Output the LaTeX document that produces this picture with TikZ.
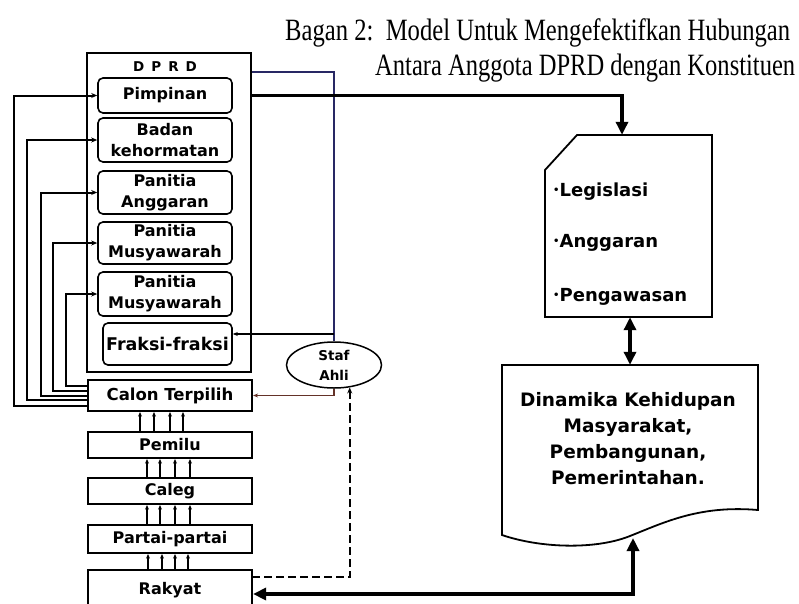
\documentclass[tikz,border=0pt]{standalone}
\usepackage{fontspec}
\usepackage{graphicx}
\setsansfont{DejaVu Sans}
\newfontfamily\titlefont{Liberation Serif}
\usetikzlibrary{arrows.meta,calc,shapes.geometric}
\definecolor{navyln}{RGB}{40,40,100}
\definecolor{brownln}{RGB}{100,50,40}
\begin{document}
\begin{tikzpicture}[x=1pt,y=-1pt,
  lbl/.style={font=\sffamily\bfseries\fontsize{16}{21}\selectfont, align=center},
  innerbox/.style={lbl, draw, rounded corners=5pt, line width=1.6pt, minimum width=134pt, inner sep=0pt},
  flowbox/.style={lbl, draw, line width=2.2pt, minimum width=164pt, inner sep=0pt},
  fb/.style={line width=2pt, -{Stealth[length=6pt,width=5pt]}},
  uparr/.style={line width=1.3pt, -{Stealth[length=4.5pt,width=4pt]}},
  bigtip/.tip={Triangle[length=13pt,width=12pt]},
  thickarr/.style={line width=3.8pt},
  thinln/.style={line width=1.3pt},
  rtxt/.style={font=\sffamily\bfseries\fontsize{18}{22}\selectfont, anchor=west, inner sep=0pt}
]
\useasboundingbox (0,0) rectangle (799,603);

% title
\node[anchor=base west, inner sep=0pt] (title1) at (285,40)
  {\resizebox{505pt}{\height}{\titlefont\fontsize{31}{33}\selectfont Bagan 2:\ \ Model Untuk Mengefektifkan Hubungan}};
\node[anchor=base west, inner sep=0pt] (title2) at (375,75)
  {\resizebox{420pt}{\height}{\titlefont\fontsize{31}{33}\selectfont Antara Anggota DPRD dengan Konstituen}};

% DPRD
\node[draw, line width=2.2pt, minimum width=164pt, minimum height=319pt, inner sep=0pt] (dprd) at (169,212.5) {};
\node[font=\sffamily\bfseries\fontsize{13.5}{15}\selectfont, inner sep=0pt] (dprdlbl) at (165,67) {D\hspace{7pt}P\hspace{7pt}R\hspace{7pt}D};
\node[innerbox, minimum height=35pt] (pim) at (165,95.5) {Pimpinan};
\node[innerbox, minimum height=44pt] (bad) at (165,140) {Badan\\kehormatan};
\node[innerbox, minimum height=43pt] (ang) at (165,192.5) {Panitia\\Anggaran};
\node[innerbox, minimum height=42pt] (mus1) at (165,243) {Panitia\\Musyawarah};
\node[innerbox, minimum height=44pt] (mus2) at (165,294) {Panitia\\Musyawarah};
\node[innerbox, minimum height=42pt, minimum width=129pt, font=\sffamily\bfseries\fontsize{17.5}{21}\selectfont] (fra) at (167.5,344) {Fraksi-fraksi};

% flow boxes
\node[flowbox, minimum height=31pt, font=\sffamily\bfseries\fontsize{16.5}{20}\selectfont] (calon) at (170,395.5) {Calon Terpilih};
\node[flowbox, minimum height=26pt] (pemilu) at (170,445) {Pemilu};
\node[flowbox, minimum height=26pt] (caleg) at (170,491) {Caleg};
\node[flowbox, minimum height=28pt] (partai) at (170,539) {Partai-partai};
\node[flowbox, minimum height=40pt] (rakyat) at (170,590) {Rakyat};

% staf ahli
\node[draw, ellipse, line width=1.5pt, minimum width=95pt, minimum height=46pt, inner sep=0pt,
  font=\sffamily\bfseries\fontsize{13.5}{20}\selectfont, align=center] (staf) at (334,365) {Staf\\Ahli};

% legislasi card
\draw[line width=1.8pt] (577,135) -- (712,135) -- (712,317) -- (545,317) -- (545,170) -- cycle;
\node[minimum width=167pt, minimum height=182pt, inner sep=0pt] (leg) at (628.5,226) {};
\node[rtxt] (l1) at (553,192) {\raisebox{3pt}{\fontsize{10}{10}\selectfont •}Legislasi};
\node[rtxt] (l2) at (553,243) {\raisebox{3pt}{\fontsize{10}{10}\selectfont •}Anggaran};
\node[rtxt] (l3) at (553,297) {\raisebox{3pt}{\fontsize{10}{10}\selectfont •}Pengawasan};

% dinamika document
\draw[line width=1.8pt] (502,365) -- (758,365) -- (758,510)
  .. controls (700,505) and (665,522) .. (630,536)
  .. controls (595,550) and (540,548) .. (502,535) -- cycle;
\node[minimum width=256pt, minimum height=170pt, inner sep=0pt] (din) at (630,450) {};
\coordinate (dinb) at (633,538);
\node[font=\sffamily\bfseries\fontsize{18.5}{26}\selectfont, align=center, inner sep=0pt] (dintxt) at (628,439)
  {Dinamika Kehidupan\\Masyarakat,\\Pembangunan,\\Pemerintahan.};

% feedback lines
\draw[fb] ([yshift=-10.5pt]calon.west) -| ([xshift=-83pt]pim.west) -- (pim.west);
\draw[fb] ([yshift=-4.5pt]calon.west) -| ([xshift=-70pt]bad.west) -- (bad.west);
\draw[fb] (calon.west) -| ([xshift=-56pt]ang.west) -- (ang.west);
\draw[fb] ([yshift=4.5pt]calon.west) -| ([xshift=-44pt]mus1.west) -- (mus1.west);
\draw[fb] ([yshift=9.5pt]calon.west) -| ([xshift=-31pt]mus2.west) -- (mus2.west);

% up arrows
\foreach \dx in {-30,-16,0,13} \draw[uparr] ([xshift=\dx pt]pemilu.north) -- ([xshift=\dx pt]calon.south);
\foreach \dx in {-23,-10,5,20} \draw[uparr] ([xshift=\dx pt]caleg.north) -- ([xshift=\dx pt]pemilu.south);
\foreach \dx in {-23,-10,5,20} \draw[uparr] ([xshift=\dx pt]partai.north) -- ([xshift=\dx pt]caleg.south);
\foreach \dx in {-22,-8,5,18} \draw[uparr] ([xshift=\dx pt]rakyat.north) -- ([xshift=\dx pt]partai.south);

% staf ahli lines
\coordinate (dprdTop) at ([yshift=140.5pt]dprd.east);
\coordinate (fraIn) at ([yshift=10pt]fra.east);
\coordinate (rakIn) at ([yshift=13pt]rakyat.east);
\draw[thinln, navyln] (staf.north) |- (dprdTop);
\draw[thinln, -{Stealth[length=5pt,width=4pt]}] (staf.north |- fraIn) -- (fraIn);
\draw[thinln, brownln, -{Stealth[length=5pt,width=4pt]}] (staf.south) |- (calon.east);
\draw[line width=2pt, dash pattern=on 8pt off 4pt, {Stealth[length=6pt,width=5pt]}-] (staf.-55) |- (rakIn);

% thick arrows
\draw[thickarr, -bigtip] (dprd.east |- pim.east) -| ([xshift=-6.5pt]leg.north);
\draw[thickarr, bigtip-bigtip] (leg.south -| din.north) -- (din.north);
\draw[thickarr, bigtip-bigtip] ([yshift=-4pt]rakyat.east) -| (dinb);
\end{tikzpicture}
\end{document}
